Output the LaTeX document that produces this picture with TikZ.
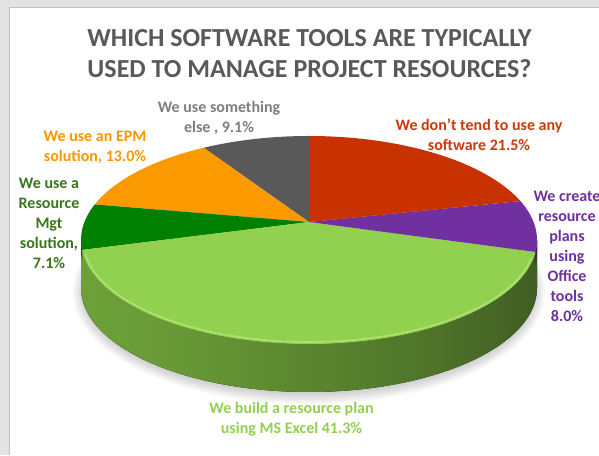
\documentclass[tikz,border=0pt]{standalone}
\usepackage{fontspec}
\setmainfont{Carlito}

\definecolor{framegray}{HTML}{E2E3E2}
\definecolor{titlegray}{HTML}{595959}
\definecolor{slicegray}{HTML}{595959}
\definecolor{sliceorange}{RGB}{250,153,0}
\definecolor{slicedkgreen}{RGB}{0,128,0}
\definecolor{slicegreen}{HTML}{92D050}
\definecolor{slicepurple}{HTML}{7030A0}
\definecolor{slicered}{RGB}{200,50,0}
\definecolor{rimgreen}{RGB}{172,226,110}
\definecolor{sideA}{RGB}{126,180,66}
\definecolor{sideB}{RGB}{104,153,54}
\definecolor{sideC}{RGB}{80,118,42}
\definecolor{sideD}{RGB}{60,88,33}
\definecolor{labelgray}{HTML}{7F7F7F}
\definecolor{labelorange}{RGB}{250,150,0}
\definecolor{labeldkgreen}{RGB}{56,118,29}
\definecolor{labelred}{RGB}{204,58,12}

\pgfdeclarehorizontalshading{pieside}{100bp}{color(0bp)=(sideA); color(35bp)=(sideB); color(62bp)=(sideC); color(78bp)=(sideD); color(100bp)=(sideD)}

\begin{document}
\begin{tikzpicture}[x=1pt,y=1pt,
    lbl/.style={align=center,inner sep=0pt,font=\bfseries\fontsize{16}{20}\selectfont},
    ttl/.style={align=center,inner sep=0pt,text=titlegray,font=\bfseries\fontsize{26}{30.5}\selectfont}]
  \useasboundingbox (0,0) rectangle (599,455);
  % chart area and window frame
  \fill[white] (0,0) rectangle (599,455);
  \fill[framegray] (0,448) rectangle (599,455);
  \fill[framegray] (0,0) rectangle (9,455);
  \draw[framegray!85!black,line width=0.6] (9,0) -- (9,448) -- (599,448);

  \coordinate (c) at (309,215);   % centre of the top ellipse
  \coordinate (p) at (309,233);   % apex where the slices meet

  % soft shadow under the pie
  \foreach \k in {1,...,6}
    \fill[black,opacity=0.03] (309,163) ellipse[x radius={224+2*\k},y radius={100+2*\k}];

  % side of the pie
  \fill[shading=pieside] ([shift={(180:228 and 104)}]c) arc[start angle=180,end angle=360,x radius=228,y radius=104]
    -- ++(0,-48) arc[start angle=360,end angle=180,x radius=228,y radius=104] -- cycle;
  \fill[slicedkgreen!70!black] ([shift={(180:228 and 104)}]c) arc[start angle=180,end angle=185.5,x radius=228,y radius=104]
    -- ++(0,-10) arc[start angle=185.5,end angle=180,x radius=228,y radius=104] -- cycle;
  \fill[slicepurple!60!black] ([shift={(353.4:228 and 104)}]c) arc[start angle=353.4,end angle=360,x radius=228,y radius=104]
    -- ++(0,-12) arc[start angle=360,end angle=353.4,x radius=228,y radius=104] -- cycle;

  % top face
  \foreach \a/\b/\col in {90/117.5/slicegray, 117.5/160/sliceorange, 160/185.5/slicedkgreen,
      185.5/353.4/slicegreen, 353.4/382/slicepurple, 382/450/slicered}
    \fill[\col] (p) -- ([shift={(\a:228 and 104)}]c) arc[start angle=\a,end angle=\b,x radius=228,y radius=104] -- cycle;
  \draw[rimgreen,line width=1.6] ([shift={(188:226 and 102)}]c) arc[start angle=188,end angle=350,x radius=226,y radius=102];

  % title and labels
  \node[ttl] (t) at (309.5,401.5) {WHICH SOFTWARE TOOLS ARE TYPICALLY\\USED TO MANAGE PROJECT RESOURCES?};
  \node[lbl,text=labelgray] (g) at (219,337) {We use something\\else , 9.1\%};
  \node[lbl,text=labelorange] (o) at (95,308) {We use an EPM\\solution, 13.0\%};
  \node[lbl,text=labeldkgreen] (d) at (49,232) {We use a\\Resource\\Mgt\\solution,\\7.1\%};
  \node[lbl,text=labelred] (r) at (479,320) {We don’t tend to use any\\software 21.5\%};
  \node[lbl,text=slicepurple] (u) at (567,198.5) {We create\\resource\\plans\\using\\Office\\tools\\8.0\%};
  \node[lbl,text=slicegreen] (e) at (291.5,36) {We build a resource plan\\using MS Excel 41.3\%};
\end{tikzpicture}
\end{document}
